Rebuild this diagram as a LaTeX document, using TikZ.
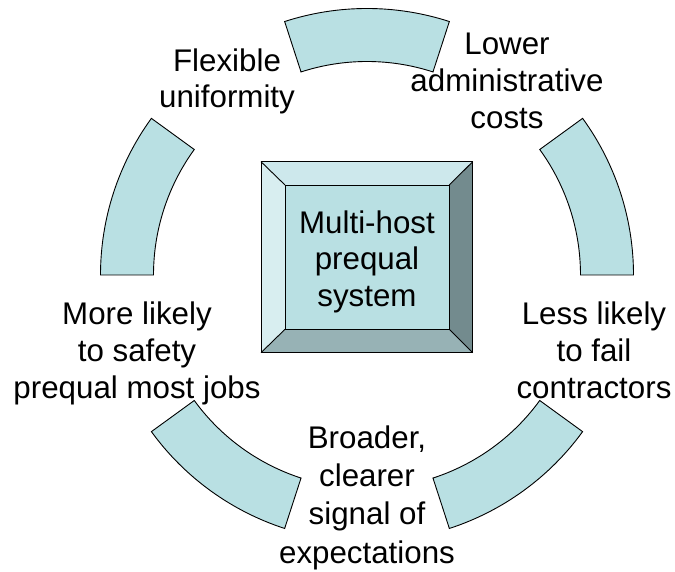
\documentclass[tikz,border=0pt]{standalone}
\usepackage{fontspec}
\setmainfont{Liberation Sans}
\usetikzlibrary{calc}
\definecolor{ringfill}{HTML}{B9E0E3}
\definecolor{bevtop}{HTML}{CDE8EC}
\definecolor{bevleft}{HTML}{D8EEF0}
\definecolor{bevright}{HTML}{738B8E}
\definecolor{bevbot}{HTML}{97B2B5}
\tikzset{
  seg/.style={draw=black, line width=0.9pt, fill=ringfill, line join=miter},
  lbl/.style={align=center, anchor=base, inner sep=0pt, font=\fontsize{31.3}{36.8}\selectfont},
  bev/.style={draw=black, line width=0.9pt, line join=miter},
}
\begin{document}
\begin{tikzpicture}[x=1pt,y=1pt]
\useasboundingbox (0,0) rectangle (675,571);
\coordinate (c) at (367,296);
\def\Ro{266.5}
\def\Ri{213.5}
% ring segments
\foreach \a in {0,72,144,216,288}{
  \pgfmathsetmacro{\b}{\a+36}
  \draw[seg] ($(c)+(\a:\Ro)$) arc[start angle=\a, end angle=\b, radius=\Ro]
    -- ($(c)+(\b:\Ri)$) arc[start angle=\b, end angle=\a, radius=\Ri] -- cycle;
}
% bevel box
\coordinate (o1) at (261,218.3);
\coordinate (o2) at (472.7,218.3);
\coordinate (o3) at (472.7,409.3);
\coordinate (o4) at (261,409.3);
\coordinate (i1) at (285,241.7);
\coordinate (i2) at (449.3,241.7);
\coordinate (i3) at (449.3,386);
\coordinate (i4) at (285,386);
\fill[ringfill] (i1) rectangle (i3);
\fill[bevbot] (o1) -- (o2) -- (i2) -- (i1) -- cycle;
\fill[bevright] (o2) -- (o3) -- (i3) -- (i2) -- cycle;
\fill[bevtop] (o3) -- (o4) -- (i4) -- (i3) -- cycle;
\fill[bevleft] (o4) -- (o1) -- (i1) -- (i4) -- cycle;
\draw[bev] (o1) rectangle (o3);
\draw[bev] (i1) rectangle (i3);
\draw[bev] (o1) -- (i1) (o2) -- (i2) (o3) -- (i3) (o4) -- (i4);
% labels (anchor = baseline of the last line)
\node[lbl] (center) at (367,264.3) {Multi-host\\prequal\\system};
\node[lbl] (flex) at (227,463) {Flexible\\uniformity};
\node[lbl] (lower) at (507,442.7) {Lower\\administrative\\costs};
\node[lbl] (more) at (137,172.7) {More likely\\to safety\\prequal most jobs};
\node[lbl] (less) at (594,172.7) {Less likely\\to fail\\contractors};
\node[lbl, font=\fontsize{31.3}{38.2}\selectfont] (broad) at (367,8) {Broader,\\clearer\\signal of\\expectations};
\end{tikzpicture}
\end{document}
